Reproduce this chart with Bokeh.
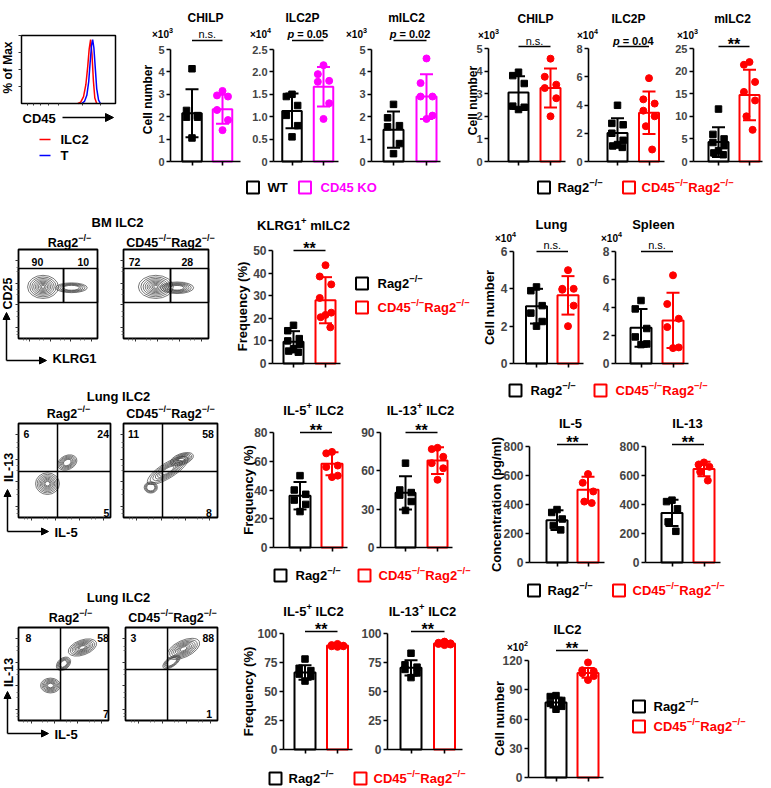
import math
from bokeh.plotting import figure
from bokeh.models import Range1d, LinearAxis, FixedTicker, Label, Arrow, NormalHead, Spacer
from bokeh.layouts import row, column
from bokeh.embed import file_html
from bokeh.resources import INLINE

FONT = "Liberation Sans"
RED = "#ff0000"
MAG = "#ff00ff"
BLUE = "#0000ff"
BLK = "#000000"

# ----------------------------- DATA -----------------------------
# CD45 histogram (% of max)
hist_ilc2_x = [60, 63, 66, 68.5, 70.5, 72, 73.5, 75, 76.5, 78, 80]
hist_ilc2_y = [0, 2, 10, 28, 55, 80, 94, 72, 33, 8, 0]
hist_t_x = [64, 67, 69.5, 71.5, 73, 74.5, 75.7, 77, 78.5, 80, 82, 84]
hist_t_y = [0, 3, 12, 32, 60, 85, 94, 82, 52, 22, 5, 0]

# WT vs CD45 KO
wtko_groups = ["WT", "CD45 KO"]
chilp_wt = [4.14, 2.28, 2.05, 1.98, 1.98, 1.05]
chilp_ko = [3.15, 2.95, 2.9, 2.3, 1.85, 1.4]
chilp_mean = [2.15, 2.33]
chilp_sd = [1.07, 0.65]
ilc2p_wt = [1.5, 1.45, 1.25, 1.03, 0.8, 0.55]
ilc2p_ko = [2.15, 1.95, 1.8, 1.78, 1.3, 0.95]
ilc2p_mean = [1.13, 1.67]
ilc2p_sd = [0.39, 0.44]
milc2_wt = [2.55, 1.95, 1.6, 1.55, 0.8, 0.35]
milc2_ko = [4.6, 3.5, 2.9, 2.9, 2.05, 1.9]
milc2_mean = [1.42, 2.9]
milc2_sd = [0.81, 1.0]

# Rag2-/- vs CD45-/-Rag2-/-
rag_chilp_ctrl = [3.95, 3.8, 3.45, 2.45, 2.4, 2.3]
rag_chilp_ko = [4.55, 3.75, 3.4, 3.25, 2.8, 2.0]
rag_chilp_mean = [3.05, 3.25]
rag_chilp_sd = [0.72, 0.86]
rag_ilc2p_ctrl = [3.98, 2.7, 2.6, 2.0, 1.5, 1.2, 1.1, 1.0]
rag_ilc2p_ko = [5.9, 4.4, 4.1, 3.6, 3.2, 2.5, 0.85]
rag_ilc2p_mean = [2.02, 3.45]
rag_ilc2p_sd = [1.05, 1.5]
rag_milc2_ctrl = [11.6, 6.0, 5.0, 4.2, 3.5, 2.4, 1.9, 1.5]
rag_milc2_ko = [22.0, 21.4, 17.6, 15.4, 13.5, 10.0, 7.0]
rag_milc2_mean = [4.3, 14.7]
rag_milc2_sd = [3.3, 5.6]
klrg1_ctrl = [16.9, 14.5, 11.0, 10.0, 8.5, 6.5, 5.5, 5.0]
klrg1_ko = [43.5, 38.5, 35.0, 29.0, 22.5, 21.5, 20.5, 16.0]
klrg1_mean = [9.6, 28.0]
klrg1_sd = [4.7, 10.2]
lung_ctrl = [4.1, 3.9, 3.1, 2.7, 2.25, 2.0]
lung_ko = [5.0, 4.0, 4.0, 3.95, 3.1, 2.0]
lung_mean = [3.07, 3.65]
lung_sd = [0.93, 1.03]
spleen_ctrl = [4.5, 3.9, 2.5, 1.9, 1.4, 1.35]
spleen_ko = [6.3, 4.25, 3.2, 2.6, 1.15, 1.1]
spleen_mean = [2.55, 3.08]
spleen_sd = [1.35, 1.97]
il5pos_ctrl = [50, 40, 37, 33, 30, 25]
il5pos_ko = [66.5, 65.5, 57, 56, 50, 49]
il5pos_mean = [36, 58.3]
il5pos_sd = [9.5, 8]
il13pos_ctrl = [66, 45, 43, 41, 36, 29]
il13pos_ko = [78, 77, 71, 66, 62, 53]
il13pos_mean = [42.8, 68]
il13pos_sd = [13, 10.5]
il5_conc_ctrl = [365, 345, 300, 255, 225]
il5_conc_ko = [610, 550, 490, 420, 410]
il5_conc_mean = [292, 501]
il5_conc_sd = [68, 90]
il13_conc_ctrl = [430, 420, 370, 280, 215]
il13_conc_ko = [690, 675, 660, 625, 565]
il13_conc_mean = [342, 644]
il13_conc_sd = [90, 50]
il5pos2_ctrl = [78, 70, 68, 65, 63, 59]
il5pos2_ko = [91, 90, 89.5, 89, 89, 88.5]
il5pos2_mean = [66.4, 89.6]
il5pos2_sd = [6.3, 1.0]
il13pos2_ctrl = [83, 73, 71, 69, 66, 62]
il13pos2_ko = [93, 92, 91.5, 91, 90.5, 90]
il13pos2_mean = [70.4, 91.3]
il13pos2_sd = [6.5, 1.0]
ilc2_num_ctrl = [84, 83, 79, 76, 73, 70]
ilc2_num_ko = [118, 110, 109, 107, 104, 100]
ilc2_num_mean = [76.8, 107.3]
ilc2_num_sd = [5, 5]

# tick values / labels
ticks_5 = [0, 1, 2, 3, 4, 5]
labels_5 = ["0", "1", "2", "3", "4", "5"]
ticks_2p5 = [0, 0.5, 1, 1.5, 2, 2.5]
labels_2p5 = ["0", "0.5", "1.0", "1.5", "2.0", "2.5"]
ticks_8 = [0, 2, 4, 6, 8]
labels_8 = ["0", "2", "4", "6", "8"]
ticks_25 = [0, 5, 10, 15, 20, 25]
labels_25 = ["0", "5", "10", "15", "20", "25"]
ticks_50 = [0, 10, 20, 30, 40, 50]
labels_50 = ["0", "10", "20", "30", "40", "50"]
ticks_6 = [0, 2, 4, 6]
labels_6 = ["0", "2", "4", "6"]
ticks_80 = [0, 20, 40, 60, 80]
labels_80 = ["0", "20", "40", "60", "80"]
ticks_90 = [0, 30, 60, 90]
labels_90 = ["0", "30", "60", "90"]
ticks_800 = [0, 200, 400, 600, 800]
labels_800 = ["0", "200", "400", "600", "800"]
ticks_100 = [0, 25, 50, 75, 100]
labels_100 = ["0", "25", "50", "75", "100"]
ticks_120 = [0, 30, 60, 90, 120]
labels_120 = ["0", "30", "60", "90", "120"]

# flow cytometry gate percentages
bm_rag2_pct = ["90", "10"]
bm_cd45_pct = ["72", "28"]
lung1_rag2_pct = ["6", "24", "5"]
lung1_cd45_pct = ["11", "58", "8"]
lung2_rag2_pct = ["8", "58", "7"]
lung2_cd45_pct = ["3", "88", "1"]
# contour populations: (x, y, width, height, angle, levels) in % of plot
bm_rag2_pop = [(31, 58, 39, 26, 0, 9), (67, 57, 40, 11, 0, 5)]
bm_cd45_pop = [(38, 58, 41, 26, 0, 9), (63, 57, 39, 13, 0, 6)]
lung1_rag2_pop = [(31.5, 36, 26, 23, 0, 8), (53, 58.5, 22, 15, 25, 6)]
lung1_cd45_pop = [(29, 32, 14, 12, 0, 4), (47, 50, 50, 16, 32, 7), (62, 62, 26, 12, 20, 7)]
lung2_rag2_pop = [(71, 78.5, 33, 16, 20, 8), (50, 61, 18, 12, 40, 5), (35.5, 37.6, 22, 16, 0, 7)]
lung2_cd45_pop = [(63, 77, 38, 18, 25, 8), (50, 63, 22, 10, 35, 4)]

# ----------------------------- HELPERS -----------------------------
CW = {' ': 278, '%': 889, '(': 333, ')': 333, '*': 389, '+': 584, '-': 333, '.': 278, '/': 278,
      '=': 584, '\u00d7': 584, '\u2212': 584,
      'A': 722, 'B': 722, 'C': 722, 'D': 722, 'E': 667, 'F': 611, 'G': 778, 'H': 722, 'I': 278,
      'K': 722, 'L': 611, 'M': 833, 'O': 778, 'P': 667, 'R': 722, 'S': 667, 'T': 611, 'W': 944,
      'a': 556, 'b': 611, 'c': 556, 'e': 556, 'g': 611, 'i': 278, 'l': 278, 'm': 889, 'n': 611,
      'o': 611, 'p': 611, 'q': 611, 'r': 389, 's': 556, 't': 333, 'u': 611, 'y': 556}
SUP = 0.72
LEVELS = [1.0, 0.86, 0.73, 0.61, 0.5, 0.4, 0.3, 0.21, 0.12]
JIT = {5: [0, -0.17, 0.17, -0.12, 0.12],
       6: [0, -0.18, 0.18, -0.18, 0.18, 0],
       7: [0, -0.18, 0.18, -0.18, 0.18, -0.1, 0.1],
       8: [0, -0.18, 0.18, -0.18, 0.18, 0, -0.15, 0.15]}


def tw(s, size):
    return sum(CW.get(c, 556) for c in s) * size / 1000.0


def new_fig(w, h, xr, yr):
    p = figure(width=int(w), height=int(h), x_range=Range1d(*xr), y_range=Range1d(*yr),
               toolbar_location=None, output_backend="svg", x_axis_type=None, y_axis_type=None,
               min_border=0, title=None)
    p.outline_line_color = None
    p.background_fill_color = "white"
    p.border_fill_color = "white"
    return p


def label(p, x, y, text, size, color=BLK, align="center", style="bold", angle=0.0,
          xo=0.0, yo=0.0):
    p.add_layout(Label(x=x, y=y, text=text, text_font=FONT, text_font_size="%spx" % size,
                       text_font_style=style, text_color=color, text_align=align,
                       text_baseline="middle", angle=angle, x_offset=xo, y_offset=yo))


def rich(p, x, y, parts, size, color=BLK, align="center"):
    if len(parts) == 1 and parts[0][1] in ("n", "reg"):
        label(p, x, y, parts[0][0], size, color, align,
              "normal" if parts[0][1] == "reg" else "bold")
        return
    segs, total = [], 0.0
    for text, kind in parts:
        fs = round(size * SUP, 1) if kind == "sup" else size
        lead = len(text) - len(text.lstrip(" "))
        total += tw(" " * lead, fs)
        body = text.lstrip(" ")
        segs.append((body, kind, fs, total))
        total += tw(body, fs)
    start = {"left": 0.0, "center": -total / 2.0, "right": -total}[align]
    for text, kind, fs, off in segs:
        style = {"it": "bold italic", "reg": "normal"}.get(kind, "bold")
        label(p, x, y, text, fs, color, "left", style, xo=start + off,
              yo=size * 0.38 if kind == "sup" else 0.0)


def ko_parts():
    return [("CD45", "n"), ("\u2212/\u2212", "sup"), ("Rag2", "n"), ("\u2212/\u2212", "sup")]


def rag_parts():
    return [("Rag2", "n"), ("\u2212/\u2212", "sup")]


def axis_style(ax, fs):
    ax.axis_line_width = 1.6
    ax.major_tick_line_width = 1.6
    ax.major_tick_out = 4
    ax.major_tick_in = 0
    ax.minor_tick_out = 0
    ax.minor_tick_in = 0
    ax.major_label_standoff = 2
    ax.major_label_text_font = FONT
    ax.major_label_text_font_style = "bold"
    ax.major_label_text_font_size = "%spx" % fs
    ax.axis_line_color = BLK
    ax.major_tick_line_color = BLK


def bar_chart(s):
    fx, fy, fw, fh = s["rect"]
    c1, c2 = s["c"]
    unit = float(c2 - c1)
    x0 = 1 - (c1 - fx) / unit
    x1 = x0 + fw / unit
    y0p, ytp, ymax = s["y0"], s["ytop"], s["ymax"]
    ppu = (y0p - ytp) / float(ymax)
    p = new_fig(fw, fh, (x0, x1), (-(fy + fh - y0p) / ppu, (y0p - fy) / ppu))
    PX = lambda X: x0 + (X - fx) / unit
    PY = lambda Y: (y0p - Y) / ppu
    tfs, kfs, lfs = s["fs"]
    ca, cb = s["colors"]
    mean, sd = s["mean"], s["sd"]
    p.vbar(x=[1, 2], top=mean, bottom=0, width=s["bw"] / unit, fill_color="white",
           line_color=[ca, cb], line_width=2)
    lo = [m - d for m, d in zip(mean, sd)]
    hi = [m + d for m, d in zip(mean, sd)]
    cw = 6.5 / unit
    p.segment(x0=[1, 2], y0=lo, x1=[1, 2], y1=hi, line_color=[ca, cb], line_width=2)
    p.segment(x0=[1 - cw, 2 - cw, 1 - cw, 2 - cw], y0=hi + lo, x1=[1 + cw, 2 + cw, 1 + cw, 2 + cw],
              y1=hi + lo, line_color=[ca, cb, ca, cb], line_width=2)
    for k, (vals, col, mk, sz) in enumerate([(s["a"], ca, "square", 6.5), (s["b"], cb, "circle", 7)]):
        offs = JIT[len(vals)]
        p.scatter(x=[k + 1 + o for o in offs], y=vals, marker=mk, size=sz, fill_color=col,
                  line_color=col)
    ticks = [int(t) if float(t).is_integer() else t for t in s["ticks"]]
    yax = LinearAxis(fixed_location=PX(s["axis_x"]), bounds=(0, ymax),
                     ticker=FixedTicker(ticks=ticks, minor_ticks=[]),
                     major_label_overrides=dict(zip(ticks, s["labels"])))
    axis_style(yax, kfs)
    p.add_layout(yax, "left")
    xax = LinearAxis(fixed_location=0, bounds=(PX(s["axis_x"]), PX(s["fr"])),
                     ticker=FixedTicker(ticks=[1, 2], minor_ticks=[]),
                     major_label_overrides={1: "", 2: ""})
    axis_style(xax, 1)
    p.add_layout(xax, "below")
    sl = PY(s["sig_line"])
    p.segment(x0=[1], y0=[sl], x1=[2], y1=[sl], line_color=BLK, line_width=1.6)
    if s["sig"][0][0] == "**":
        rich(p, 1.5, PY(s["sig_line"] - 2.5), s["sig"], 16)
    else:
        rich(p, 1.5, PY(s["sig_text"]), s["sig"], 11)
    tx, ty = s["title_xy"]
    rich(p, PX(tx), PY(ty), s["title"], tfs)
    if s.get("exp"):
        ex, ey = s["exp_xy"]
        rich(p, PX(ex), PY(ey), [("\u00d710", "n"), (s["exp"], "sup")], 10)
    if s.get("ylabel"):
        lx, ly = s["ylabel_xy"]
        label(p, PX(lx), PY(ly), s["ylabel"], lfs, angle=math.pi / 2)
    return p


def box_fig(rect, box):
    fx, fy, fw, fh = rect
    bl, bt, br, bb = box
    sx = (br - bl) / 100.0
    sy = (bb - bt) / 100.0
    p = new_fig(fw, fh, ((fx - bl) / sx, (fx + fw - bl) / sx),
                ((bb - (fy + fh)) / sy, (bb - fy) / sy))
    PX = lambda X: (X - bl) / sx
    PY = lambda Y: (bb - Y) / sy
    return p, PX, PY


def deco_axis(p, side, ticks, minor, out=3):
    ax = LinearAxis(fixed_location=0, bounds=(0, 100),
                    ticker=FixedTicker(ticks=ticks, minor_ticks=minor),
                    major_label_overrides={t: "" for t in ticks})
    ax.axis_line_color = None
    ax.major_label_text_font_size = "1px"
    ax.major_tick_out = out
    ax.major_tick_in = 0
    ax.minor_tick_out = 2
    ax.minor_tick_in = 0
    ax.major_tick_line_width = 1
    ax.minor_tick_line_width = 0.8
    ax.major_tick_line_color = "#333333"
    ax.minor_tick_line_color = "#555555"
    p.add_layout(ax, side)


def flow_fig(rect, box, pops, div, nums, num_pos, sub, sub_xy, extras=None):
    p, PX, PY = box_fig(rect, box)
    xs, ys, ws, hs, an = [], [], [], [], []
    for (cx, cy, w, h, ang, n) in pops:
        for sc in LEVELS[:n]:
            xs.append(cx); ys.append(cy); ws.append(w * sc); hs.append(h * sc); an.append(ang)
    p.ellipse(x=xs, y=ys, width=ws, height=hs, angle=an, angle_units="deg", fill_color=None,
              line_color="#3c3c3c", line_width=0.7)
    if div[0] == "gate":
        _, sp, gb, gt = div
        p.quad(left=[0, sp], right=[sp, 100], bottom=[gb, gb], top=[gt, gt], fill_color=None,
               line_color=BLK, line_width=1.5)
    else:
        _, vs, hs_ = div
        p.segment(x0=[vs, 0], y0=[0, hs_], x1=[vs, 100], y1=[100, hs_], line_color=BLK,
                  line_width=1.5)
    p.quad(left=[0], right=[100], bottom=[0], top=[100], fill_color=None, line_color=BLK,
           line_width=1.8)
    deco_axis(p, "left", [12, 38, 62, 88], [4, 8, 25, 30, 50, 55, 75, 80])
    deco_axis(p, "below", [14, 40, 66, 92], [6, 10, 27, 32, 53, 58, 79, 84])
    for t, (nx, ny) in zip(nums, num_pos):
        label(p, nx, ny, t, 10.5)
    rich(p, PX(sub_xy[0]), PY(sub_xy[1]), sub, 12.5)
    if extras:
        (yl, ylx, yly), (vx, vy0, vy1), (hx1,), (xl, xlx, xly) = extras
        label(p, PX(ylx), PY(yly), yl, 12.5, angle=math.pi / 2)
        p.add_layout(Arrow(end=NormalHead(size=7, fill_color=BLK, line_color=BLK),
                           x_start=PX(vx), y_start=PY(vy0), x_end=PX(vx), y_end=PY(vy1),
                           line_width=1.5, line_color=BLK))
        p.add_layout(Arrow(end=NormalHead(size=7, fill_color=BLK, line_color=BLK),
                           x_start=PX(vx), y_start=PY(vy0), x_end=PX(hx1), y_end=PY(vy0),
                           line_width=1.5, line_color=BLK))
        label(p, PX(xlx), PY(xly), xl, 13, align="left")
    return p


def text_fig(rect, entries):
    fx, fy, fw, fh = rect
    p = new_fig(fw, fh, (fx, fx + fw), (fy + fh, fy))
    for (x, y, parts, size) in entries:
        rich(p, x, y, parts, size)
    return p


def legend_fig(rect, entries):
    fx, fy, fw, fh = rect
    p = new_fig(fw, fh, (fx, fx + fw), (fy + fh, fy))
    p.rect(x=[e[0] for e in entries], y=[e[1] for e in entries], width=12, height=12,
           width_units="screen", height_units="screen", fill_color="white",
           line_color=[e[2] for e in entries], line_width=2)
    for (bx, by, col, tx, parts) in entries:
        rich(p, tx, by, parts, 13, col, "left")
    return p


def hist_fig():
    p, PX, PY = box_fig((0, 0, 128, 168), (21, 35, 115, 103))
    p.line(hist_ilc2_x, hist_ilc2_y, line_color=RED, line_width=1.5)
    p.line(hist_t_x, hist_t_y, line_color=BLUE, line_width=1.5)
    p.quad(left=[0], right=[100], bottom=[0], top=[100], fill_color=None, line_color=BLK,
           line_width=1.5)
    deco_axis(p, "left", [25, 50, 75, 100], [])
    deco_axis(p, "below", [6, 13, 20, 29, 39, 65, 84], [], out=2)
    label(p, PX(7.5), PY(67), "% of Max", 12, angle=math.pi / 2)
    label(p, PX(22), PY(118), "CD45", 13, align="left")
    p.add_layout(Arrow(end=NormalHead(size=8, fill_color=BLK, line_color=BLK),
                       x_start=PX(62), y_start=PY(117), x_end=PX(113), y_end=PY(117),
                       line_width=1.5, line_color=BLK))
    p.segment(x0=[PX(39), PX(39)], y0=[PY(139), PY(155)], x1=[PX(50), PX(50)],
              y1=[PY(139), PY(155)], line_color=[RED, BLUE], line_width=1.5)
    label(p, PX(60), PY(139), "ILC2", 13, align="left")
    label(p, PX(60), PY(155), "T", 13, align="left")
    return p


NS = [("n.s.", "reg")]
STAR = [("**", "n")]
R1F = (12, 11, 12)
RF = (13, 12, 13)
plus = lambda a, b: [(a, "n"), ("+", "sup"), (b, "n")]

specs = {
    "C1": dict(rect=(132, 0, 111, 172), axis_x=170, y0=161, ytop=49, ymax=5, ticks=ticks_5,
               labels=labels_5, c=(191.5, 222), bw=19.5, fr=240, title=[("CHILP", "n")],
               title_xy=(205, 17), a=chilp_wt, b=chilp_ko, mean=chilp_mean, sd=chilp_sd,
               colors=(BLK, MAG), sig=NS, sig_line=40, sig_text=33, exp="3", exp_xy=(162, 34),
               ylabel="Cell number", ylabel_xy=(147, 99), fs=R1F),
    "C2": dict(rect=(245, 0, 98, 172), axis_x=273, y0=161, ytop=49, ymax=2.5, ticks=ticks_2p5,
               labels=labels_2p5, c=(291.5, 323), bw=19.5, fr=338, title=[("ILC2P", "n")],
               title_xy=(302, 17), a=ilc2p_wt, b=ilc2p_ko, mean=ilc2p_mean, sd=ilc2p_sd,
               colors=(BLK, MAG), sig=[("p", "it"), (" = 0.05", "n")], sig_line=40, sig_text=33,
               exp="4", exp_xy=(260, 34), fs=R1F),
    "C3": dict(rect=(343, 0, 102, 172), axis_x=371, y0=161, ytop=49, ymax=5, ticks=ticks_5,
               labels=labels_5, c=(393, 426), bw=20, fr=440, title=[("mILC2", "n")],
               title_xy=(406, 17), a=milc2_wt, b=milc2_ko, mean=milc2_mean, sd=milc2_sd,
               colors=(BLK, MAG), sig=[("p", "it"), (" = 0.02", "n")], sig_line=40, sig_text=33,
               exp="3", exp_xy=(356, 34), fs=R1F),
    "R1": dict(rect=(458, 0, 108, 172), axis_x=488, y0=161, ytop=48, ymax=5, ticks=ticks_5,
               labels=labels_5, c=(518, 550), bw=20, fr=565, title=[("CHILP", "n")],
               title_xy=(535, 18), a=rag_chilp_ctrl, b=rag_chilp_ko, mean=rag_chilp_mean,
               sd=rag_chilp_sd, colors=(BLK, RED), sig=NS, sig_line=46, sig_text=40, exp="3",
               exp_xy=(488, 35), ylabel="Cell number", ylabel_xy=(472, 100), fs=R1F),
    "R2": dict(rect=(568, 0, 98, 172), axis_x=588, y0=161, ytop=48, ymax=8, ticks=ticks_8,
               labels=labels_8, c=(617, 648.5), bw=20, fr=664, title=[("ILC2P", "n")],
               title_xy=(628, 18), a=rag_ilc2p_ctrl, b=rag_ilc2p_ko, mean=rag_ilc2p_mean,
               sd=rag_ilc2p_sd, colors=(BLK, RED), sig=[("p", "it"), (" = 0.04", "n")],
               sig_line=46, sig_text=40, exp="4", exp_xy=(587, 35), fs=R1F),
    "R3": dict(rect=(668, 0, 100, 172), axis_x=693, y0=161, ytop=48, ymax=25, ticks=ticks_25,
               labels=labels_25, c=(718, 749), bw=20, fr=762, title=[("mILC2", "n")],
               title_xy=(732, 18), a=rag_milc2_ctrl, b=rag_milc2_ko, mean=rag_milc2_mean,
               sd=rag_milc2_sd, colors=(BLK, RED), sig=STAR, sig_line=46, sig_text=40, exp="3",
               exp_xy=(687, 35), fs=R1F),
    "K": dict(rect=(218, 208, 134, 168), axis_x=272, y0=363, ytop=250, ymax=50, ticks=ticks_50,
              labels=labels_50, c=(293, 325), bw=20, fr=340, title=plus("KLRG1", " mILC2"),
              title_xy=(303, 225), a=klrg1_ctrl, b=klrg1_ko, mean=klrg1_mean, sd=klrg1_sd,
              colors=(BLK, RED), sig=STAR, sig_line=250, sig_text=243,
              ylabel="Frequency (%)", ylabel_xy=(242, 306), fs=RF),
    "LUNG": dict(rect=(474, 208, 124, 170), axis_x=513, y0=363, ytop=251, ymax=6, ticks=ticks_6,
                 labels=labels_6, c=(536, 567.5), bw=21, fr=583, title=[("Lung", "n")],
                 title_xy=(551, 224), a=lung_ctrl, b=lung_ko, mean=lung_mean, sd=lung_sd,
                 colors=(BLK, RED), sig=NS, sig_line=251, sig_text=244, exp="4",
                 exp_xy=(505, 238), ylabel="Cell number", ylabel_xy=(489, 307), fs=RF),
    "SPLEEN": dict(rect=(598, 208, 104, 170), axis_x=615, y0=363, ytop=251, ymax=8,
                   ticks=ticks_8, labels=labels_8, c=(640.5, 672.5), bw=21, fr=688,
                   title=[("Spleen", "n")], title_xy=(653, 224), a=spleen_ctrl, b=spleen_ko,
                   mean=spleen_mean, sd=spleen_sd, colors=(BLK, RED), sig=NS, sig_line=251,
                   sig_text=244, exp="4", exp_xy=(611, 238), fs=RF),
    "G1": dict(rect=(226, 400, 132, 158), axis_x=273, y0=547, ytop=432, ymax=80, ticks=ticks_80,
               labels=labels_80, c=(299.5, 331.5), bw=21, fr=347, title=plus("IL-5", " ILC2"),
               title_xy=(313, 410), a=il5pos_ctrl, b=il5pos_ko, mean=il5pos_mean,
               sd=il5pos_sd, colors=(BLK, RED), sig=STAR, sig_line=432, sig_text=426,
               ylabel="Frequency (%)", ylabel_xy=(248, 489.5), fs=RF),
    "G2": dict(rect=(358, 400, 112, 158), axis_x=380, y0=547, ytop=432, ymax=90, ticks=ticks_90,
               labels=labels_90, c=(405, 437), bw=20, fr=452, title=plus("IL-13", " ILC2"),
               title_xy=(420, 410), a=il13pos_ctrl, b=il13pos_ko, mean=il13pos_mean,
               sd=il13pos_sd, colors=(BLK, RED), sig=STAR, sig_line=432, sig_text=426, fs=RF),
    "CONC5": dict(rect=(474, 406, 140, 170), axis_x=529, y0=562, ytop=446, ymax=800,
                  ticks=ticks_800, labels=labels_800, c=(556.5, 587.5), bw=21, fr=604,
                  title=[("IL-5", "n")], title_xy=(570, 423), a=il5_conc_ctrl, b=il5_conc_ko,
                  mean=il5_conc_mean, sd=il5_conc_sd, colors=(BLK, RED), sig=STAR,
                  sig_line=444, sig_text=437, ylabel="Concentration (pg/ml)",
                  ylabel_xy=(496, 504), fs=RF),
    "CONC13": dict(rect=(614, 406, 116, 170), axis_x=645, y0=562, ytop=446, ymax=800,
                   ticks=ticks_800, labels=labels_800, c=(671.5, 703.5), bw=21, fr=720,
                   title=[("IL-13", "n")], title_xy=(687, 423), a=il13_conc_ctrl,
                   b=il13_conc_ko, mean=il13_conc_mean, sd=il13_conc_sd, colors=(BLK, RED),
                   sig=STAR, sig_line=444, sig_text=437, fs=RF),
    "H1": dict(rect=(226, 600, 132, 162), axis_x=283, y0=749, ytop=633, ymax=100,
               ticks=ticks_100, labels=labels_100, c=(304.5, 337), bw=21, fr=352,
               title=plus("IL-5", " ILC2"), title_xy=(313, 611), a=il5pos2_ctrl, b=il5pos2_ko,
               mean=il5pos2_mean, sd=il5pos2_sd, colors=(BLK, RED), sig=STAR, sig_line=631,
               sig_text=625, ylabel="Frequency (%)", ylabel_xy=(248, 691), fs=RF),
    "H2": dict(rect=(358, 600, 114, 162), axis_x=387, y0=749, ytop=633, ymax=100,
               ticks=ticks_100, labels=labels_100, c=(410.5, 444), bw=21, fr=462,
               title=plus("IL-13", " ILC2"), title_xy=(422, 611), a=il13pos2_ctrl,
               b=il13pos2_ko, mean=il13pos2_mean, sd=il13pos2_sd, colors=(BLK, RED), sig=STAR,
               sig_line=631, sig_text=625, fs=RF),
    "ILC2": dict(rect=(474, 612, 144, 174), axis_x=528, y0=777, ytop=660, ymax=120,
                 ticks=ticks_120, labels=labels_120, c=(555.5, 587.5), bw=21, fr=603,
                 title=[("ILC2", "n")], title_xy=(567, 629), a=ilc2_num_ctrl, b=ilc2_num_ko,
                 mean=ilc2_num_mean, sd=ilc2_num_sd, colors=(BLK, RED), sig=STAR,
                 sig_line=650, sig_text=643, exp="2", exp_xy=(517, 647),
                 ylabel="Cell number", ylabel_xy=(499, 718), fs=RF),
}

items = []
for key, s in specs.items():
    items.append((s["rect"], bar_chart(s)))

items.append(((0, 0, 128, 168), hist_fig()))

# flow plots
items.append(((0, 205, 218, 26), text_fig((0, 205, 218, 26), [(117, 222, [("BM ILC2", "n")], 13)])))
items.append(((0, 231, 119, 139), flow_fig((0, 231, 119, 139), (18, 249, 97, 338), bm_rag2_pop,
                                           ("gate", 57, 40.4, 78.7), bm_rag2_pct,
                                           [(24, 85.4), (82, 85.4)], rag_parts(), (69, 242),
                                           (("CD25", 7, 293), (6, 360, 312), (46,),
                                            ("KLRG1", 52, 358)))))
items.append(((119, 231, 99, 111), flow_fig((119, 231, 99, 111), (123, 249, 208, 338),
                                            bm_cd45_pop, ("gate", 55.3, 40.4, 78.7),
                                            bm_cd45_pct, [(13, 85.4), (75, 85.4)], ko_parts(),
                                            (170, 242))))
items.append(((0, 386, 223, 19), text_fig((0, 386, 223, 19), [(118, 396, [("Lung ILC2", "n")], 13)])))
items.append(((0, 405, 119, 140), flow_fig((0, 405, 119, 140), (18, 423, 110, 517),
                                           lung1_rag2_pop, ("quad", 42.4, 49), lung1_rag2_pct,
                                           [(8.7, 89), (92, 89), (95.6, 5)], rag_parts(),
                                           (68, 413),
                                           (("IL-13", 8, 467), (7, 531, 489), (48,),
                                            ("IL-5", 54, 532)))))
items.append(((119, 405, 102, 117), flow_fig((119, 405, 102, 117), (123, 423, 217, 517),
                                             lung1_cd45_pop, ("quad", 41.5, 49), lung1_cd45_pct,
                                             [(10.6, 89), (90, 89), (91, 5)], ko_parts(),
                                             (170, 413))))
items.append(((0, 587, 223, 18), text_fig((0, 587, 223, 18), [(118, 597, [("Lung ILC2", "n")], 13)])))
items.append(((0, 605, 119, 145), flow_fig((0, 605, 119, 145), (18, 627, 108, 720),
                                           lung2_rag2_pop, ("quad", 46.7, 54.8), lung2_rag2_pct,
                                           [(11, 89), (94, 89), (97, 7.5)], rag_parts(),
                                           (70, 617),
                                           (("IL-13", 8, 672), (7, 733, 691), (48,),
                                            ("IL-5", 54, 734)))))
items.append(((119, 605, 102, 120), flow_fig((119, 605, 102, 120), (125, 627, 217, 720),
                                             lung2_cd45_pop, ("quad", 45.7, 54.8), lung2_cd45_pct,
                                             [(8.7, 89), (90, 89), (91, 7.5)], ko_parts(),
                                             (172, 617))))

# legends
items.append(((236, 174, 160, 26), legend_fig((236, 174, 160, 26), [
    (252.5, 187, BLK, 267, [(wtko_groups[0], "n")]),
    (304.5, 187, MAG, 320, [(wtko_groups[1], "n")])])))
items.append(((528, 174, 210, 26), legend_fig((528, 174, 210, 26), [
    (543.5, 187, BLK, 557, rag_parts()), (628.5, 187, RED, 641, ko_parts())])))
items.append(((352, 270, 118, 50), legend_fig((352, 270, 118, 50), [
    (361.5, 283, BLK, 377, rag_parts()), (361.5, 307, RED, 377, ko_parts())])))
items.append(((500, 379, 220, 22), legend_fig((500, 379, 220, 22), [
    (515, 390, BLK, 530, rag_parts()), (600, 390, RED, 615, ko_parts())])))
items.append(((266, 562, 206, 24), legend_fig((266, 562, 206, 24), [
    (280, 575, BLK, 295, rag_parts()), (364, 575, RED, 378, ko_parts())])))
items.append(((520, 579, 230, 22), legend_fig((520, 579, 230, 22), [
    (533.5, 590, BLK, 547, rag_parts()), (618.5, 590, RED, 632, ko_parts())])))
items.append(((260, 767, 212, 20), legend_fig((260, 767, 212, 20), [
    (275, 778, BLK, 288, rag_parts()), (360, 778, RED, 373, ko_parts())])))
items.append(((622, 694, 141, 46), legend_fig((622, 694, 141, 46), [
    (638.5, 706, BLK, 653, rag_parts()), (638.5, 726, RED, 653, ko_parts())])))


# ----------------------------- LAYOUT -----------------------------
def build(its, x0, y0, x1, y1):
    if not its:
        return Spacer(width=x1 - x0, height=y1 - y0)
    if len(its) == 1:
        (x, y, w, h), m = its[0]
        rw = []
        if x > x0:
            rw.append(Spacer(width=x - x0, height=h))
        rw.append(m)
        if x1 > x + w:
            rw.append(Spacer(width=x1 - x - w, height=h))
        r = row(rw) if len(rw) > 1 else m
        cl = []
        if y > y0:
            cl.append(Spacer(width=x1 - x0, height=y - y0))
        cl.append(r)
        if y1 > y + h:
            cl.append(Spacer(width=x1 - x0, height=y1 - y - h))
        return column(cl) if len(cl) > 1 else r
    for c in sorted(set(r[0] + r[2] for r, _ in its)):
        if c >= x1:
            continue
        L = [it for it in its if it[0][0] + it[0][2] <= c]
        R = [it for it in its if it[0][0] >= c]
        if L and R and len(L) + len(R) == len(its):
            return row([build(L, x0, y0, c, y1), build(R, c, y0, x1, y1)])
    for c in sorted(set(r[1] + r[3] for r, _ in its)):
        if c >= y1:
            continue
        T = [it for it in its if it[0][1] + it[0][3] <= c]
        B = [it for it in its if it[0][1] >= c]
        if T and B and len(T) + len(B) == len(its):
            return column([build(T, x0, y0, x1, c), build(B, x0, c, x1, y1)])
    raise ValueError("no guillotine cut")


root = build(items, 0, 0, 770, 787)
open("out.html", "w").write(file_html(root, INLINE, title="CD45 ILC2 figure"))
